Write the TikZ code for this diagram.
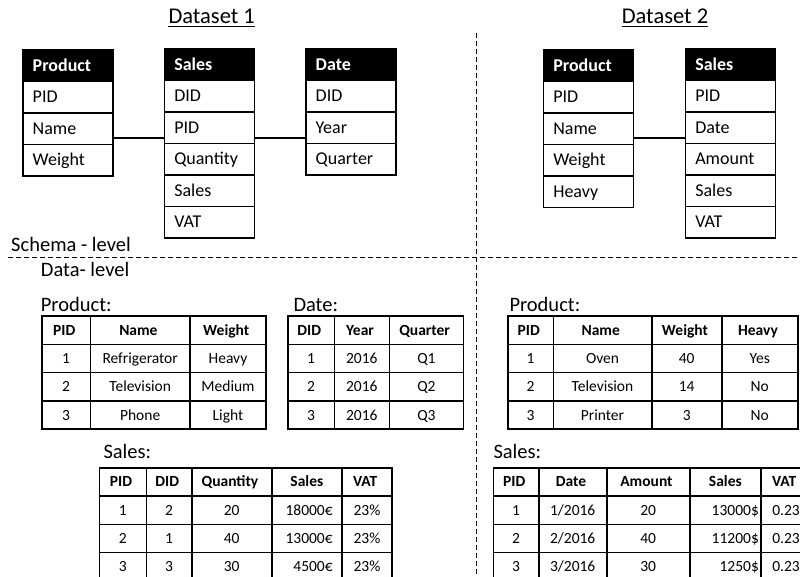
\documentclass[tikz,border=0pt]{standalone}
\usepackage{fontspec}
\setmainfont{Carlito}
\usetikzlibrary{positioning,matrix}

\begin{document}
\begin{tikzpicture}[x=1pt, y=-1pt,
            entityhead/.style={draw, line width=1.6pt, fill=black, text=white, font=\fontsize{18}{21}\selectfont\bfseries,
                               minimum height=31.5pt, text width=70pt, inner xsep=10pt, inner ysep=0pt,
                               text height=14pt, text depth=3pt, align=left, outer sep=0pt},
            entityfield/.style={entityhead, fill=white, text=black, font=\fontsize{18}{21}\selectfont},
            dstitle/.style={font=\fontsize{22.5}{27}\selectfont, inner sep=0pt, anchor=base},
            lbl/.style={font=\fontsize{20.5}{24}\selectfont, inner sep=0pt, anchor=base west},
            relline/.style={line width=1.5pt},
            levelsplit/.style={line width=1.3pt, dash pattern=on 5pt off 3pt},
            datatable/.style={matrix of nodes, anchor=north west, inner sep=0pt, column sep=-1.6pt, row sep=-1.6pt,
                              nodes={draw, line width=1.6pt, minimum height=28.3pt, inner sep=0pt, outer sep=0pt,
                                     text height=12pt, text depth=2pt, font=\fontsize{15.5}{18}\selectfont},
                              row 1/.style={nodes={font=\fontsize{15.5}{18}\selectfont\bfseries, align=center}}}
  ]
  \useasboundingbox (0,0) rectangle (800,577);
  \clip (0,0) rectangle (800,577);

  % titles
  \node[dstitle] (ds1) at (211.7,24) {Dataset 1};
  \node[dstitle] (ds2) at (665,24) {Dataset 2};
  \draw[line width=1.2pt] ([yshift=-2.7pt]ds1.base west) -- ([yshift=-2.7pt]ds1.base east);
  \draw[line width=1.2pt] ([yshift=-2.7pt]ds2.base west) -- ([yshift=-2.7pt]ds2.base east);

  % schema level, dataset 1
  \node[entityhead, anchor=north west] (d1p) at (22.7,50) {Product};
  \node[entityfield, below=0pt of d1p] (d1ppid) {PID};
  \node[entityfield, below=0pt of d1ppid] (d1pname) {Name};
  \node[entityfield, below=0pt of d1pname] (d1pweight) {Weight};

  \node[entityhead, anchor=north west] (d1s) at (164.3,49) {Sales};
  \node[entityfield, below=0pt of d1s] (d1sdid) {DID};
  \node[entityfield, below=0pt of d1sdid] (d1spid) {PID};
  \node[entityfield, below=0pt of d1spid] (d1squantity) {Quantity};
  \node[entityfield, below=0pt of d1squantity] (d1ssales) {Sales};
  \node[entityfield, below=0pt of d1ssales] (d1svat) {VAT};

  \node[entityhead, anchor=north west] (d1d) at (305.7,49) {Date};
  \node[entityfield, below=0pt of d1d] (d1ddid) {DID};
  \node[entityfield, below=0pt of d1ddid] (d1dyear) {Year};
  \node[entityfield, below=0pt of d1dyear] (d1dquarter) {Quarter};

  \draw[relline] ([yshift=-9.25pt]d1pname.east) -- ([yshift=-9.25pt]d1pname.east -| d1spid.west);
  \draw[relline] ([yshift=-10.25pt]d1spid.east) -- ([yshift=-10.25pt]d1spid.east -| d1dyear.west);

  % schema level, dataset 2
  \node[entityhead, anchor=north west] (d2p) at (543.3,50) {Product};
  \node[entityfield, below=0pt of d2p] (d2ppid) {PID};
  \node[entityfield, below=0pt of d2ppid] (d2pname) {Name};
  \node[entityfield, below=0pt of d2pname] (d2pweight) {Weight};
  \node[entityfield, below=0pt of d2pweight] (d2pheavy) {Heavy};

  \node[entityhead, anchor=north west] (d2s) at (685.3,49) {Sales};
  \node[entityfield, below=0pt of d2s] (d2spid) {PID};
  \node[entityfield, below=0pt of d2spid] (d2sdate) {Date};
  \node[entityfield, below=0pt of d2sdate] (d2samount) {Amount};
  \node[entityfield, below=0pt of d2samount] (d2ssales) {Sales};
  \node[entityfield, below=0pt of d2ssales] (d2svat) {VAT};

  \draw[relline] ([yshift=-9.25pt]d2pname.east) -- ([yshift=-9.25pt]d2pname.east -| d2sdate.west);

  % level separators
  \draw[levelsplit] (8,257.3) -- (800,257.3);
  \draw[levelsplit] (476.7,33) -- (476.7,577);
  \node[lbl] (schemalvl) at (11,251.7) {Schema - level};
  \node[lbl] (datalvl) at (40.7,276.7) {Data- level};

  % data level, dataset 1
  \node[lbl] (d1prodlbl) at (40.7,311.5) {Product:};
  \matrix (d1prod) [datatable, at={(40.7,315)},
      column 1/.style={nodes={minimum width=48.6pt}},
      column 2/.style={nodes={minimum width=99.7pt}},
      column 3/.style={nodes={minimum width=76pt}}] {
    PID & Name & Weight \\
    1 & Refrigerator & Heavy \\
    2 & Television & Medium \\
    3 & Phone & Light \\
  };

  \node[lbl] (d1datelbl) at (293.3,311.5) {Date:};
  \matrix (d1date) [datatable, at={(286.7,315)},
      column 1/.style={nodes={minimum width=46.6pt}},
      column 2/.style={nodes={minimum width=55pt}},
      column 3/.style={nodes={minimum width=74.2pt}}] {
    DID & Year & Quarter \\
    1 & 2016 & Q1 \\
    2 & 2016 & Q2 \\
    3 & 2016 & Q3 \\
  };

  \node[lbl] (d1saleslbl) at (103.3,458.3) {Sales:};
  \matrix (d1sales) [datatable, at={(98.3,466.7)},
      column 1/.style={nodes={minimum width=47pt}},
      column 2/.style={nodes={minimum width=45.4pt}},
      column 3/.style={nodes={minimum width=80pt}},
      column 4/.style={nodes={minimum width=70.3pt, text width=51.7pt, align=right}},
      column 5/.style={nodes={minimum width=50pt}}] {
    PID & DID & Quantity & Sales & VAT \\
    1 & 2 & 20 & 18000€ & 23\% \\
    2 & 1 & 40 & 13000€ & 23\% \\
    3 & 3 & 30 & 4500€ & 23\% \\
  };

  % data level, dataset 2
  \node[lbl] (d2prodlbl) at (509.3,311.5) {Product:};
  \matrix (d2prod) [datatable, at={(506.7,315)},
      column 1/.style={nodes={minimum width=45.6pt}},
      column 2/.style={nodes={minimum width=98.4pt}},
      column 3/.style={nodes={minimum width=70pt}},
      column 4/.style={nodes={minimum width=76pt}}] {
    PID & Name & Weight & Heavy \\
    1 & Oven & 40 & Yes \\
    2 & Television & 14 & No \\
    3 & Printer & 3 & No \\
  };

  \node[lbl] (d2saleslbl) at (493.3,458.3) {Sales:};
  \matrix (d2sales) [datatable, at={(492.3,466.7)},
      column 1/.style={nodes={minimum width=45.4pt}},
      column 2/.style={nodes={minimum width=68pt}},
      column 3/.style={nodes={minimum width=83pt}},
      column 4/.style={nodes={minimum width=71.3pt, text width=67pt, align=right}},
      column 5/.style={nodes={minimum width=50pt}}] {
    PID & Date & Amount & Sales & VAT \\
    1 & 1/2016 & 20 & 13000\$ & 0.23 \\
    2 & 2/2016 & 40 & 11200\$ & 0.23 \\
    3 & 3/2016 & 30 & 1250\$ & 0.23 \\
  };

\end{tikzpicture}
\end{document}
